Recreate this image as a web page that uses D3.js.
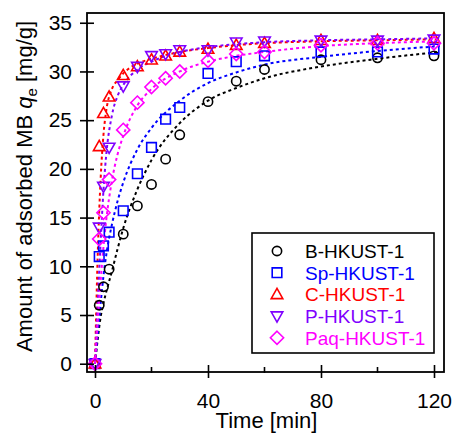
<!DOCTYPE html>
<html>
<head>
<meta charset="utf-8">
<script src="https://cdn.jsdelivr.net/npm/d3@7"></script>
<style>
  body { margin: 0; background: #fff; }
  svg { display: block; font-family: "Liberation Sans", Arial, sans-serif; }
</style>
</head>
<body>
<div id="chart"></div>
<script>
// measured points
const times = [0, 1.5, 3, 5, 10, 15, 20, 25, 30, 40, 50, 60, 80, 100, 120]
const bVals = [0, 6.0, 7.9, 9.7, 13.3, 16.2, 18.4, 21.0, 23.5, 26.9, 29.0, 30.2, 31.2, 31.4, 31.6]
const spVals = [0, 11.0, 12.1, 13.5, 15.7, 19.5, 22.2, 25.1, 26.3, 29.8, 31.0, 31.6, 32.0, 32.0, 32.3]
const cVals = [0, 22.3, 25.7, 27.4, 29.6, 30.5, 31.2, 31.6, 32.0, 32.3, 32.7, 32.9, 33.2, 33.2, 33.4]
const pVals = [0, 14.0, 18.2, 22.2, 28.5, 30.5, 31.6, 31.8, 32.2, 32.2, 33.0, 33.1, 33.2, 33.2, 33.3]
const paqVals = [0, 12.8, 15.5, 18.9, 24.0, 26.8, 28.4, 29.3, 30.0, 31.1, 31.8, 32.0, 32.7, 32.9, 32.9]

// fitted curves
const fitTimes = [0, 1, 2, 3, 4, 6, 8, 10, 15, 20, 30, 40, 50, 60, 80, 100, 122]
const bFit = [0, 2.6, 4.8, 6.2, 7.4, 9.5, 11.8, 13.9, 17.9, 20.9, 24.7, 27.0, 28.3, 29.3, 30.5, 31.3, 32.0]
const spFit = [0, 3.2, 6.2, 9.0, 11.2, 14.3, 16.7, 18.6, 22.0, 24.2, 27.0, 28.8, 29.9, 30.7, 31.5, 32.1, 32.6]
const cFit = [0, 11.5, 19.0, 23.5, 26.0, 28.2, 29.1, 29.8, 30.8, 31.3, 32.0, 32.4, 32.7, 32.9, 33.1, 33.2, 33.3]
const pFit = [0, 6.5, 12.5, 17.8, 21.5, 25.5, 27.5, 28.6, 30.2, 31.0, 32.0, 32.5, 32.8, 33.0, 33.2, 33.3, 33.4]
const paqFit = [0, 4.5, 8.5, 12.0, 14.8, 18.8, 21.5, 23.4, 26.5, 28.2, 30.0, 31.0, 31.6, 32.0, 32.6, 32.9, 33.1]

const seriesNames = ["B-HKUST-1", "Sp-HKUST-1", "C-HKUST-1", "P-HKUST-1", "Paq-HKUST-1"]
const xTicks = [0, 40, 80, 120]
const xMinorTicks = [20, 60, 100]
const yTicks = [0, 5, 10, 15, 20, 25, 30, 35]

const colors = ["#000000", "#0000ff", "#ff0000", "#7f00ff", "#ff00ff"]
const shapes = ["circle", "square", "up", "down", "diamond"]

const series = seriesNames.map((name, i) => ({
    name: name,
    color: colors[i],
    shape: shapes[i],
    vals: [bVals, spVals, cVals, pVals, paqVals][i],
    fit: [bFit, spFit, cFit, pFit, paqFit][i]
}))

const width = 454
const height = 438
const plot = { left: 87, right: 444, top: 13, bottom: 372 }

const svg = d3.select("#chart").append("svg")
    .attr("width", width)
    .attr("height", height)

const x = d3.scaleLinear().domain([-2.83, 123.54]).range([plot.left, plot.right])
const y = d3.scaleLinear().domain([-0.85, 36.0]).range([plot.bottom, plot.top])

function markerPath(shape) {
    if (shape === "circle") return d3.symbol(d3.symbolCircle, 68)()
    if (shape === "square") return "M-4.8,-4.8H4.8V4.8H-4.8Z"
    if (shape === "up") return "M0,-6L5.8,4.2H-5.8Z"
    if (shape === "down") return "M0,6L5.8,-4.2H-5.8Z"
    return "M0,-6.6L6.6,0L0,6.6L-6.6,0Z"
}

// fit lines
const line = d3.line()
    .x(d => x(d[0]))
    .y(d => y(d[1]))
    .curve(d3.curveMonotoneX)

svg.append("g")
    .selectAll("path")
    .data(series)
    .join("path")
    .attr("d", s => line(fitTimes.map((t, i) => [t, s.fit[i]])))
    .attr("fill", "none")
    .attr("stroke", s => s.color)
    .attr("stroke-width", 2)
    .attr("stroke-dasharray", "3,3")

// markers
series.forEach(s => {
    svg.append("g")
        .selectAll("path")
        .data(times.map((t, i) => [t, s.vals[i]]))
        .join("path")
        .attr("d", markerPath(s.shape))
        .attr("transform", d => `translate(${x(d[0])},${y(d[1])})`)
        .attr("fill", "none")
        .attr("stroke", s.color)
        .attr("stroke-width", 1.6)
})

// frame
svg.append("rect")
    .attr("x", plot.left)
    .attr("y", plot.top)
    .attr("width", plot.right - plot.left)
    .attr("height", plot.bottom - plot.top)
    .attr("fill", "none")
    .attr("stroke", "#000")
    .attr("stroke-width", 1.8)

// axes
const xAxis = svg.append("g")
    .attr("transform", `translate(0,${plot.bottom})`)
    .call(d3.axisBottom(x).tickValues(xTicks).tickSize(6).tickPadding(15).tickSizeOuter(0))
xAxis.select(".domain").remove()
xAxis.selectAll(".tick line").attr("y1", -7).attr("stroke-width", 1.6)
xAxis.selectAll("text").attr("font-size", 21).attr("fill", "#000").attr("font-family", "Liberation Sans, Arial, sans-serif")

svg.append("g")
    .selectAll("line")
    .data(xMinorTicks)
    .join("line")
    .attr("x1", d => x(d))
    .attr("x2", d => x(d))
    .attr("y1", plot.bottom - 5)
    .attr("y2", plot.bottom + 1)
    .attr("stroke", "#000")
    .attr("stroke-width", 1.6)

const yAxis = svg.append("g")
    .attr("transform", `translate(${plot.left},0)`)
    .call(d3.axisLeft(y).tickValues(yTicks).tickSize(7).tickPadding(8).tickSizeOuter(0))
yAxis.select(".domain").remove()
yAxis.selectAll(".tick line").attr("x1", 7).attr("stroke-width", 1.6)
yAxis.selectAll("text").attr("font-size", 21).attr("fill", "#000").attr("font-family", "Liberation Sans, Arial, sans-serif")

// axis titles
svg.append("text")
    .attr("x", (x(0) + x(120)) / 2 + 2)
    .attr("y", 428)
    .attr("text-anchor", "middle")
    .attr("font-size", 22)
    .text("Time [min]")

const yTitle = svg.append("text")
    .attr("transform", `translate(32,${(plot.top + plot.bottom) / 2 - 6}) rotate(-90)`)
    .attr("text-anchor", "middle")
    .attr("font-size", 22)
yTitle.append("tspan").text("Amount of adsorbed MB ")
yTitle.append("tspan").attr("font-style", "italic").text("q")
yTitle.append("tspan").attr("font-size", 15).attr("dy", 5).text("e")
yTitle.append("tspan").attr("dy", -5).text(" [mg/g]")

// legend
svg.append("rect")
    .attr("x", 252)
    .attr("y", 233)
    .attr("width", 182)
    .attr("height", 120)
    .attr("fill", "#fff")
    .attr("stroke", "#000")
    .attr("stroke-width", 1.6)

const legendRows = svg.append("g")
    .selectAll("g")
    .data(series)
    .join("g")
    .attr("transform", (d, i) => `translate(0,${251 + i * 21.7})`)

legendRows.append("path")
    .attr("d", d => markerPath(d.shape))
    .attr("transform", "translate(277,0)")
    .attr("fill", "none")
    .attr("stroke", d => d.color)
    .attr("stroke-width", 1.6)

legendRows.append("text")
    .attr("x", 305)
    .attr("dy", "0.36em")
    .attr("font-size", 19)
    .attr("fill", d => d.color)
    .text(d => d.name)
</script>
</body>
</html>
